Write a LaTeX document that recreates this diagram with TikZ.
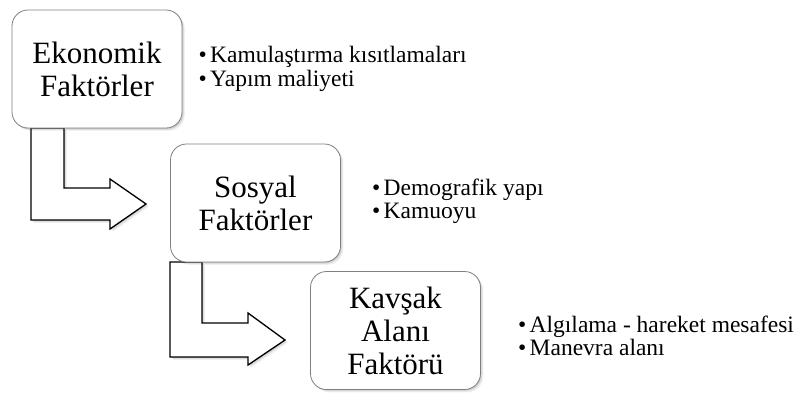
\documentclass[tikz,border=0pt]{standalone}
\usepackage{fontspec}
\setmainfont{Liberation Serif}
\usetikzlibrary{shadows}
\newcommand\itembul{\makebox[11.5pt][l]{\textbullet}}
\begin{document}
\begin{tikzpicture}[x=1pt,y=-1pt,
  softshadow/.style={
    drop shadow={shadow xshift=0.8pt, shadow yshift=-0.8pt, fill=black, opacity=0.10},
    drop shadow={shadow xshift=1.8pt, shadow yshift=-1.8pt, fill=black, opacity=0.08},
    drop shadow={shadow xshift=2.8pt, shadow yshift=-2.8pt, fill=black, opacity=0.06}},
  box/.style={draw=black!50, line width=0.8pt, fill=white, rounded corners=16pt,
    minimum width=170pt, minimum height=118pt, align=center, inner sep=0pt,
    font=\fontsize{31}{33}\selectfont, softshadow},
  barrow/.style={draw=black, line width=1.3pt, fill=white, line join=miter, softshadow},
  itemtext/.style={anchor=base west, inner sep=0pt, font=\fontsize{23.5}{24}\selectfont}]
\useasboundingbox (0,0) rectangle (803,392);
% bent arrows
\draw[barrow] (31,128) -- (64,128) -- (64,188) -- (110,188) -- (110,179) -- (146,204)
  -- (110,229) -- (110,220) -- (31,220) -- cycle;
\draw[barrow] (170,262) -- (202,262) -- (202,323) -- (248,323) -- (248,313) -- (285,340)
  -- (248,365) -- (248,357) -- (170,357) -- cycle;
% boxes
\node[box] (b1) at (97,69) {Ekonomik\\Faktörler};
\node[box] (b2) at (255.5,203) {Sosyal\\Faktörler};
\node[box] (b3) at (395.5,330.5) {Kavşak\\Alanı\\Faktörü};
% bullet texts
\node[itemtext] (t1a) at (198.5,62) {\itembul Kamulaştırma kısıtlamaları};
\node[itemtext] (t1b) at (198.5,86) {\itembul Yapım maliyeti};
\node[itemtext] (t2a) at (372,195) {\itembul Demografik yapı};
\node[itemtext] (t2b) at (372,218) {\itembul Kamuoyu};
\node[itemtext] (t3a) at (518,332) {\itembul Algılama - hareket mesafesi};
\node[itemtext] (t3b) at (518,355) {\itembul Manevra alanı};
\end{tikzpicture}
\end{document}
